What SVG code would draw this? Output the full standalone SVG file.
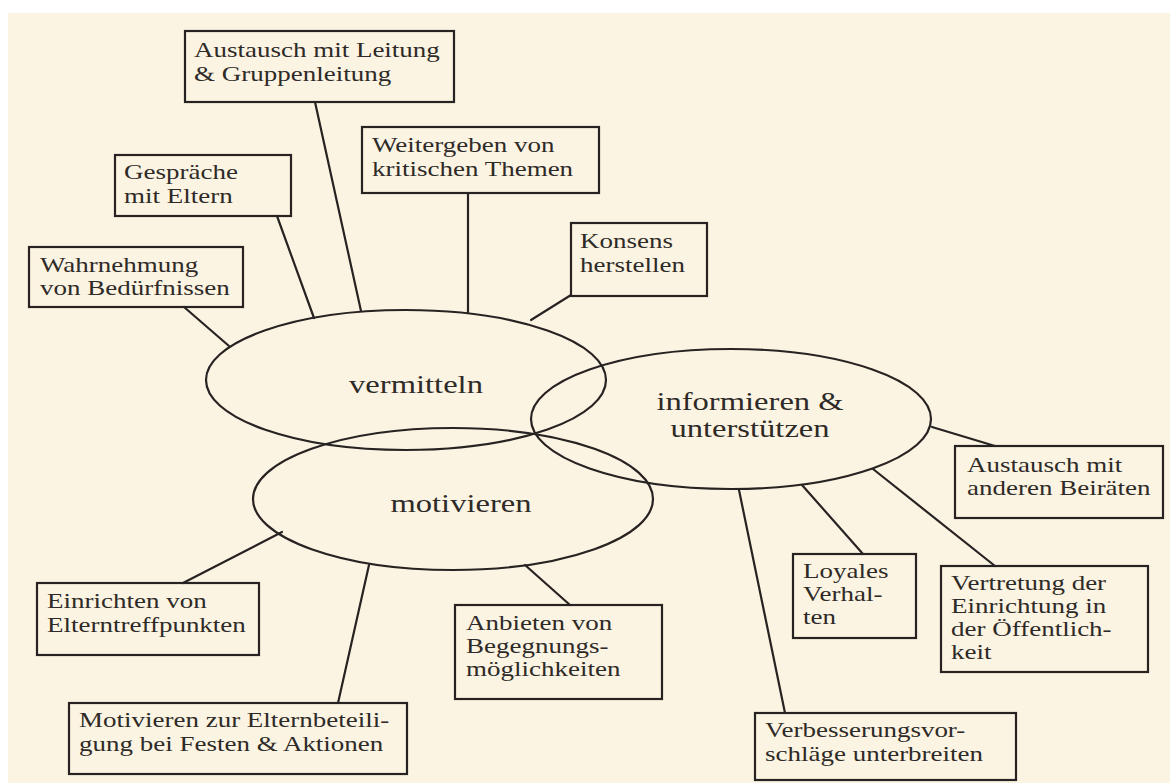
<svg xmlns="http://www.w3.org/2000/svg" width="1170" height="783" viewBox="0 0 1170 783">
<style>
.bg{fill:#fcf4e2}
.box{fill:none;stroke:#262322;stroke-width:2.2}
.ell{fill:none;stroke:#262322;stroke-width:2.2}
.ln{stroke:#262322;stroke-width:2.2;fill:none;stroke-linecap:round}
.t{font-family:"Liberation Serif","Times New Roman",serif;font-size:20.3px;fill:#2e2a28}
.e{font-family:"Liberation Serif","Times New Roman",serif;font-size:24.5px;fill:#2e2a28;text-anchor:middle}
</style>
<rect x="0" y="0" width="1170" height="783" fill="#ffffff"/>
<rect class="bg" x="8" y="13" width="1162" height="770"/>
<g id="connectors">
<line class="ln" x1="184" y1="307" x2="229" y2="346"/>
<line class="ln" x1="277" y1="216" x2="314" y2="318"/>
<line class="ln" x1="315" y1="102" x2="361" y2="311"/>
<line class="ln" x1="468" y1="193" x2="468" y2="313"/>
<line class="ln" x1="571" y1="295" x2="531" y2="320"/>
<line class="ln" x1="932" y1="427" x2="995" y2="446"/>
<line class="ln" x1="873" y1="469" x2="995" y2="566"/>
<line class="ln" x1="802" y1="485" x2="863" y2="554"/>
<line class="ln" x1="739" y1="490" x2="785" y2="713"/>
<line class="ln" x1="525" y1="565" x2="570" y2="605"/>
<line class="ln" x1="369" y1="565" x2="338" y2="703"/>
<line class="ln" x1="282" y1="532" x2="183" y2="583"/>
</g>
<g id="vermitteln">
<ellipse class="ell" cx="406" cy="380" rx="200" ry="70"/>
<text class="e" transform="translate(416,393) scale(1.33,1)">vermitteln</text>
</g>
<g id="informieren">
<ellipse class="ell" cx="731" cy="419" rx="200" ry="70"/>
<text class="e" transform="translate(750,410) scale(1.33,1)"><tspan x="0" y="0">informieren &amp;</tspan><tspan x="0" y="27">unterstützen</tspan></text>
</g>
<g id="motivieren">
<ellipse class="ell" cx="453" cy="499" rx="200" ry="71"/>
<text class="e" transform="translate(461,512) scale(1.33,1)">motivieren</text>
</g>
<g id="n-leitung">
<rect class="box" x="185" y="31" width="269" height="71"/>
<text class="t" transform="translate(194,57) scale(1.33,1)"><tspan x="0" y="0">Austausch mit Leitung</tspan><tspan x="0" y="24">&amp; Gruppenleitung</tspan></text>
</g>
<g id="n-gespraeche">
<rect class="box" x="115" y="155" width="176" height="61"/>
<text class="t" transform="translate(124,179) scale(1.33,1)"><tspan x="0" y="0">Gespräche</tspan><tspan x="0" y="24">mit Eltern</tspan></text>
</g>
<g id="n-weitergeben">
<rect class="box" x="362" y="127" width="237" height="66"/>
<text class="t" transform="translate(372,152) scale(1.33,1)"><tspan x="0" y="0">Weitergeben von</tspan><tspan x="0" y="24">kritischen Themen</tspan></text>
</g>
<g id="n-wahrnehmung">
<rect class="box" x="29" y="247" width="214" height="60"/>
<text class="t" transform="translate(40,272) scale(1.33,1)"><tspan x="0" y="0">Wahrnehmung</tspan><tspan x="0" y="23">von Bedürfnissen</tspan></text>
</g>
<g id="n-konsens">
<rect class="box" x="571" y="223" width="136" height="73"/>
<text class="t" transform="translate(580,248) scale(1.33,1)"><tspan x="0" y="0">Konsens</tspan><tspan x="0" y="24">herstellen</tspan></text>
</g>
<g id="n-beiraete">
<rect class="box" x="955" y="446" width="208" height="72"/>
<text class="t" transform="translate(967,472) scale(1.33,1)"><tspan x="0" y="0">Austausch mit</tspan><tspan x="0" y="23">anderen Beiräten</tspan></text>
</g>
<g id="n-loyal">
<rect class="box" x="793" y="554" width="123" height="84"/>
<text class="t" transform="translate(803,578) scale(1.33,1)"><tspan x="0" y="0">Loyales</tspan><tspan x="0" y="23">Verhal-</tspan><tspan x="0" y="46">ten</tspan></text>
</g>
<g id="n-vertretung">
<rect class="box" x="941" y="566" width="207" height="106"/>
<text class="t" transform="translate(951,590) scale(1.33,1)"><tspan x="0" y="0">Vertretung der</tspan><tspan x="0" y="23">Einrichtung in</tspan><tspan x="0" y="46">der Öffentlich-</tspan><tspan x="0" y="69">keit</tspan></text>
</g>
<g id="n-verbesserung">
<rect class="box" x="755" y="713" width="261" height="67"/>
<text class="t" transform="translate(765,737) scale(1.33,1)"><tspan x="0" y="0">Verbesserungsvor-</tspan><tspan x="0" y="24">schläge unterbreiten</tspan></text>
</g>
<g id="n-anbieten">
<rect class="box" x="455" y="605" width="207" height="94"/>
<text class="t" transform="translate(466,630) scale(1.33,1)"><tspan x="0" y="0">Anbieten von</tspan><tspan x="0" y="23">Begegnungs-</tspan><tspan x="0" y="46">möglichkeiten</tspan></text>
</g>
<g id="n-motivieren">
<rect class="box" x="69" y="703" width="338" height="71"/>
<text class="t" transform="translate(79,727) scale(1.33,1)"><tspan x="0" y="0">Motivieren zur Elternbeteili-</tspan><tspan x="0" y="24">gung bei Festen &amp; Aktionen</tspan></text>
</g>
<g id="n-einrichten">
<rect class="box" x="37" y="583" width="222" height="72"/>
<text class="t" transform="translate(47,608) scale(1.33,1)"><tspan x="0" y="0">Einrichten von</tspan><tspan x="0" y="24">Elterntreffpunkten</tspan></text>
</g>
</svg>
